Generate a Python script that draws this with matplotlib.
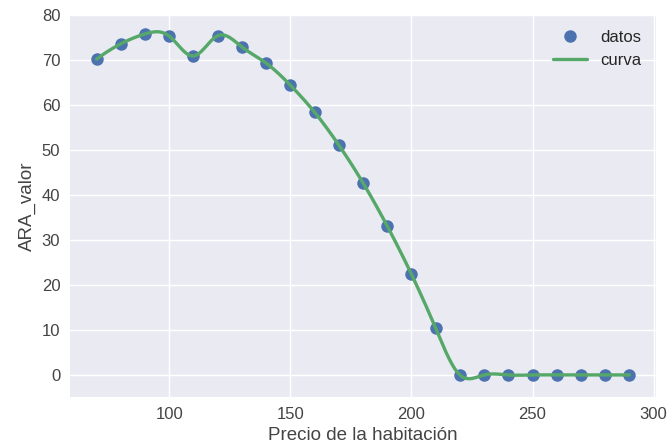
import numpy as np
import matplotlib
matplotlib.use("Agg")
import matplotlib.pyplot as plt

# ── Data ─────────────────────────────────────────────────────────────────────

precio = [70, 80, 90, 100, 110, 120, 130, 140, 150, 160, 170, 180, 190,
          200, 210, 220, 230, 240, 250, 260, 270, 280, 290]
ara_valor = [70.2, 73.6, 75.8, 75.3, 70.9, 75.4, 72.9, 69.3, 64.4, 58.4,
             51.1, 42.7, 33.1, 22.4, 10.4, 0.0, 0.0, 0.0, 0.0, 0.0, 0.0,
             0.0, 0.0]


def cubic_spline(x, y, xs):
    """Not-a-knot cubic spline through (x, y), evaluated at xs."""
    x = np.asarray(x, float)
    y = np.asarray(y, float)
    n = len(x)
    h = np.diff(x)
    A = np.zeros((n, n))
    b = np.zeros(n)
    # not-a-knot ends
    A[0, 0], A[0, 1], A[0, 2] = h[1], -(h[0] + h[1]), h[0]
    A[-1, -3], A[-1, -2], A[-1, -1] = h[-1], -(h[-2] + h[-1]), h[-2]
    for i in range(1, n - 1):
        A[i, i - 1] = h[i - 1]
        A[i, i] = 2 * (h[i - 1] + h[i])
        A[i, i + 1] = h[i]
        b[i] = 6 * ((y[i + 1] - y[i]) / h[i] - (y[i] - y[i - 1]) / h[i - 1])
    m = np.linalg.solve(A, b)
    idx = np.clip(np.searchsorted(x, xs) - 1, 0, n - 2)
    x0, x1 = x[idx], x[idx + 1]
    hh = x1 - x0
    t0, t1 = x1 - xs, xs - x0
    return (m[idx] * t0**3 / (6 * hh) + m[idx + 1] * t1**3 / (6 * hh)
            + (y[idx] / hh - m[idx] * hh / 6) * t0
            + (y[idx + 1] / hh - m[idx + 1] * hh / 6) * t1)


x_suave = np.linspace(min(precio), max(precio), 300)
y_suave = cubic_spline(precio, ara_valor, x_suave)

# ── Plot ─────────────────────────────────────────────────────────────────────

plt.style.use("seaborn-v0_8")
plt.rcParams["font.family"] = ["Liberation Sans", "DejaVu Sans"]

fig = plt.figure(figsize=(6.69, 4.48), dpi=100)
ax = fig.add_axes([70 / 669, 51 / 448, 586 / 669, 382 / 448])

ax.plot(precio, ara_valor, "o", color="#4C72B0", markersize=9,
        label="datos")
ax.plot(x_suave, y_suave, color="#55A868", linewidth=2.4, label="curva")

ax.set_ylim(-4.9, 80)
ax.set_yticks(range(0, 81, 10))
ax.tick_params(labelsize=12, colors="#444444")
ax.set_xlabel("Precio de la habitación", fontsize=13.5, color="#444444")
ax.set_ylabel("ARA_valor", fontsize=13.5, color="#444444")
ax.legend(fontsize=12, loc="upper right")

fig.savefig("out.png", dpi=100)
